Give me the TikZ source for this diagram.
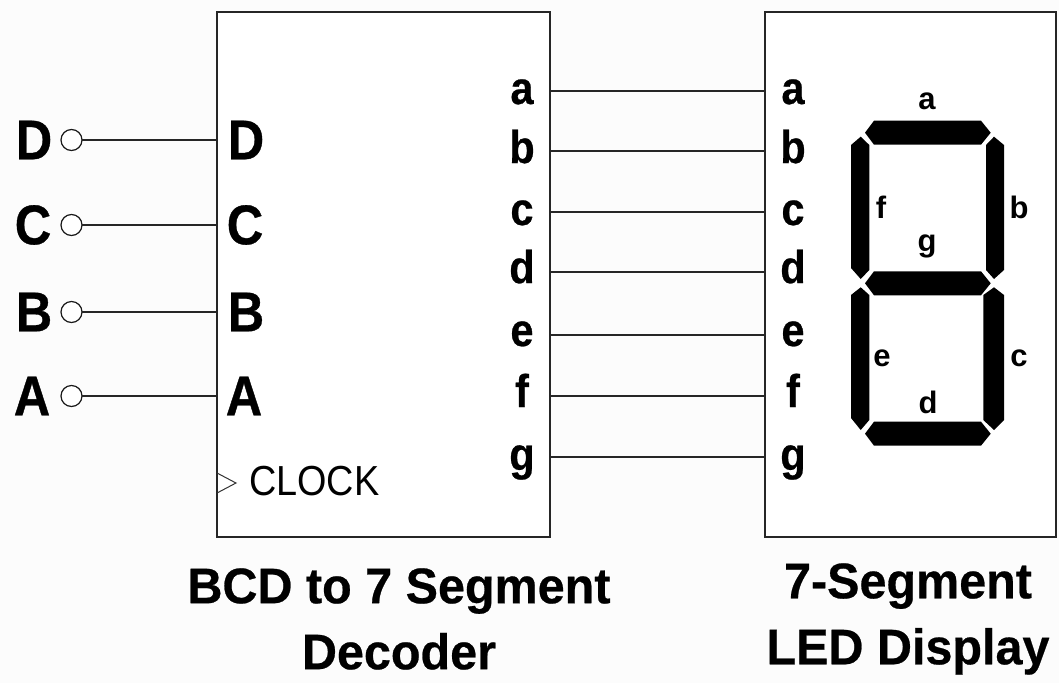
\documentclass[tikz,border=0pt]{standalone}
\usepackage{fontspec}
\setmainfont{Liberation Sans}
\newfontfamily\pinfont[FakeStretch=0.90,FakeBold=0.6]{Liberation Sans Bold}
\newfontfamily\segfont[FakeStretch=1.0]{Liberation Sans Bold}
\newfontfamily\clkfont[FakeStretch=0.90]{Liberation Sans}
\newfontfamily\capfont[FakeStretch=0.97,FakeBold=0.5]{Liberation Sans Bold}
\begin{document}
\begin{tikzpicture}[x=1pt,y=-1pt,
  wire/.style={line width=1.6pt,draw=black!85},
  blockbox/.style={draw=black!85,line width=1.6pt,fill=white,inner sep=0pt,outer sep=0pt,anchor=north west},
  bubble/.style={circle,draw=black!90,line width=1.2pt,fill=white,minimum size=21pt,inner sep=0pt,outer sep=0pt},
  pin/.style={font=\pinfont\fontsize{56}{56}\selectfont,inner sep=0pt,text=black},
  outpin/.style={font=\pinfont\fontsize{46}{46}\selectfont,inner sep=0pt,text=black},
  seglabel/.style={font=\segfont\fontsize{31}{31}\selectfont,inner sep=0pt,text=black},
  caption/.style={font=\capfont\fontsize{50}{66}\selectfont,inner sep=0pt,align=center,text=black},
  segment/.style={fill=black,draw=none}]
\useasboundingbox (0,0) rectangle (1059,683);
\fill[white!99!black] (0,0) rectangle (1059,683);
% boxes
\node[blockbox,minimum width=333pt,minimum height=525pt] (dec) at (217,12) {};
\node[blockbox,minimum width=291pt,minimum height=525pt] (led) at (765,12) {};
% inputs
\foreach \n/\t/\xx/\yy in {d/D/34/140,c/C/33/225,b/B/34/312,a/A/32/396}{
  \node[pin] (name\n) at (\xx,\yy) {\t};
  \node[bubble] (in\n) at (71.5,\yy) {};
  \node[pin] (pin\n) at (\xx+212,\yy) {\t};
  \coordinate (port\n) at (217,\yy);
  \draw[wire] (in\n.east) -- (port\n);
}
% outputs
\foreach \n/\yy/\ty in {a/91/88,b/151/147,c/212/209,d/272/267,e/335/330,f/396/391,g/457/454}{
  \node[outpin,anchor=base] (out\n) at (522,\ty+16) {\n};
  \node[outpin,anchor=base] (inp\n) at (793,\ty+16) {\n};
  \coordinate (s\n) at (550,\yy);
  \coordinate (t\n) at (765,\yy);
  \draw[wire] (s\n) -- (t\n);
}
% clock
\coordinate (ck1) at (217,473);
\coordinate (ck2) at (236,483);
\coordinate (ck3) at (217,493);
\draw[black!80,line width=1pt] (ck1) -- (ck2) -- (ck3);
\node[font=\clkfont\fontsize{42}{42}\selectfont,inner sep=0pt,anchor=west] (clk) at (249,481) {CLOCK};
% segments
\fill[segment] (865,132.7)--(874,120.7)--(981,120.7)--(990.7,132.7)--(981,144.7)--(874,144.7)--cycle;
\fill[segment] (865,283.3)--(874,271.3)--(981,271.3)--(990.7,283.3)--(981,295.3)--(874,295.3)--cycle;
\fill[segment] (865,433.7)--(874,421.7)--(981,421.7)--(990.7,433.7)--(981,445.7)--(874,445.7)--cycle;
\fill[segment] (860.7,136.7)--(869.3,145)--(869.3,270)--(860.7,279)--(851,268)--(851,145)--cycle;
\fill[segment] (994,136.7)--(1004,145)--(1004,270)--(994,279)--(986,270)--(986,145)--cycle;
\fill[segment] (860.7,287.3)--(869.3,295)--(869.3,420)--(860.7,430)--(851,418)--(851,295)--cycle;
\fill[segment] (994,287.3)--(1004,295)--(1004,420)--(994,430)--(983.3,420)--(983.3,295)--cycle;
\node[seglabel] (la) at (927,101) {a};
\node[seglabel] (lb) at (1019,207) {b};
\node[seglabel] (lc) at (1019,358) {c};
\node[seglabel] (ld) at (928,402) {d};
\node[seglabel] (le) at (882,358) {e};
\node[seglabel] (lf) at (881,207) {f};
\node[seglabel] (lg) at (927,246) {g};
% captions
\node[caption] (cap1) at (399,619) {BCD to 7 Segment\\Decoder};
\node[caption] (cap2) at (908,619) {7-Segment\\LED Display};
\end{tikzpicture}
\end{document}
